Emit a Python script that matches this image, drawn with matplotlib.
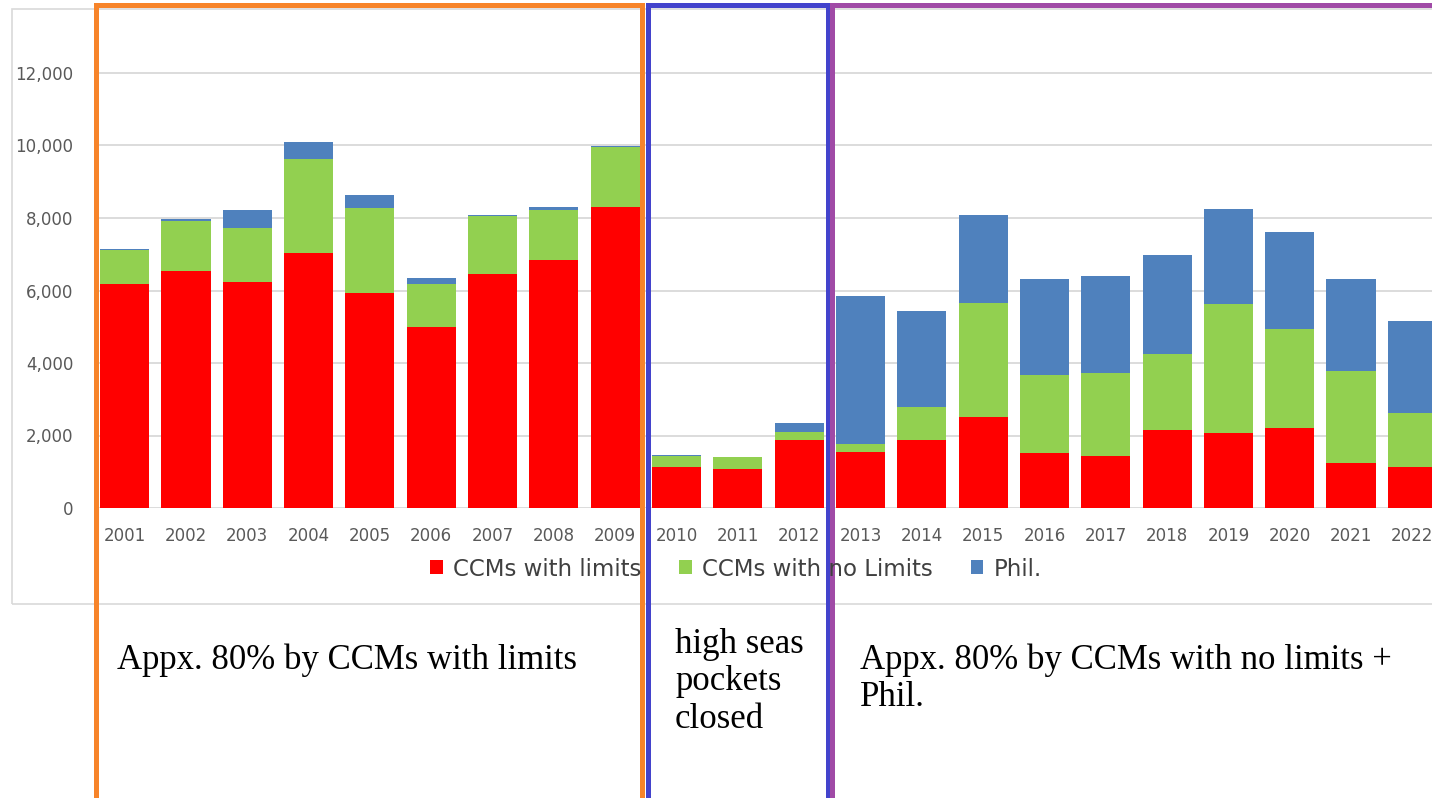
import matplotlib
matplotlib.use("Agg")
from matplotlib import pyplot as plt
from matplotlib.patches import Rectangle
import numpy as np

# catch by year
years = [str(y) for y in range(2001, 2023)]
ccm_limits = [6180, 6550, 6230, 7040, 5920, 5000, 6450, 6840, 8310, 1120, 1080,
              1880, 1550, 1880, 2500, 1510, 1430, 2150, 2080, 2200, 1250, 1120]
ccm_no_limits = [940, 1370, 1500, 2590, 2360, 1170, 1610, 1380, 1660, 310, 340,
                 230, 210, 910, 3150, 2160, 2300, 2100, 3540, 2740, 2520, 1490]
phil = [30, 50, 490, 470, 350, 180, 30, 90, 10, 30, 0,
        230, 4090, 2640, 2430, 2640, 2680, 2730, 2630, 2670, 2560, 2550]
yticks = [0, 2000, 4000, 6000, 8000, 10000, 12000]

W, H = 1432, 798
fig = plt.figure(figsize=(W / 100, H / 100), dpi=100)

def fx(px):
    return px / W

def fy(py):
    return 1 - py / H

# chart area border (cropped on the right)
fig.patches.append(Rectangle((fx(12), fy(604)), fx(1500) - fx(12), fy(9) - fy(604),
                             transform=fig.transFigure, fill=False,
                             edgecolor='#d9d9d9', lw=1.2))

ax = fig.add_axes([fx(94), fy(508), fx(1443) - fx(94), fy(0.5) - fy(508)])
x = np.arange(len(years))
b1 = np.array(ccm_limits)
b2 = b1 + np.array(ccm_no_limits)
ax.bar(x, ccm_limits, width=0.8, color='#ff0000', label='CCMs with limits')
ax.bar(x, ccm_no_limits, width=0.8, bottom=b1, color='#92d050', label='CCMs with no Limits')
ax.bar(x, phil, width=0.8, bottom=b2, color='#4f81bd', label='Phil.')

ax.set_xlim(-0.5, len(years) - 0.5)
ax.set_ylim(0, 14000)
ax.set_xticks(x)
ax.set_xticklabels(years)
ax.set_yticks(yticks)
ax.set_yticklabels([f"{v:,}" for v in yticks])
ax.tick_params(axis='x', length=0, pad=14, labelsize=12, labelcolor='#595959')
ax.tick_params(axis='y', length=0, pad=15, labelsize=12, labelcolor='#595959')
ax.grid(axis='y', color='#d9d9d9', lw=1.3)
ax.set_axisbelow(True)
for s in ax.spines.values():
    s.set_visible(False)
ax.patch.set_alpha(0)

fig.legend(loc='center', bbox_to_anchor=(fx(736), fy(569)), ncol=3, frameon=False,
           fontsize=16.5, labelcolor='#404040', handlelength=0.55, handleheight=0.55,
           handletextpad=0.45, columnspacing=1.65)

# coloured period boxes
lw = 3.6
fig.patches.append(Rectangle((fx(95.5), fy(820)), fx(641.5) - fx(95.5), fy(5.5) - fy(820),
                             transform=fig.transFigure, fill=False, edgecolor='#f7842a', lw=lw))
fig.patches.append(Rectangle((fx(647.5), fy(820)), fx(827.5) - fx(647.5), fy(5.5) - fy(820),
                             transform=fig.transFigure, fill=False, edgecolor='#4343cc', lw=lw))
fig.patches.append(Rectangle((fx(832), fy(820)), fx(1500) - fx(832), fy(5.5) - fy(820),
                             transform=fig.transFigure, fill=False, edgecolor='#a04aa6', lw=lw))

serif = 'Liberation Serif'
fig.text(fx(117), fy(669), 'Appx. 80% by CCMs with limits', family=serif, fontsize=25,
         va='baseline', color='black')
for i, line in enumerate(['high seas', 'pockets', 'closed']):
    fig.text(fx(675), fy(653 + 37.5 * i), line, family=serif, fontsize=25,
             va='baseline', color='black')
fig.text(fx(860), fy(669), 'Appx. 80% by CCMs with no limits +', family=serif, fontsize=25,
         va='baseline', color='black')
fig.text(fx(860), fy(706), 'Phil.', family=serif, fontsize=25, va='baseline', color='black')

fig.savefig('out.png', dpi=100)
